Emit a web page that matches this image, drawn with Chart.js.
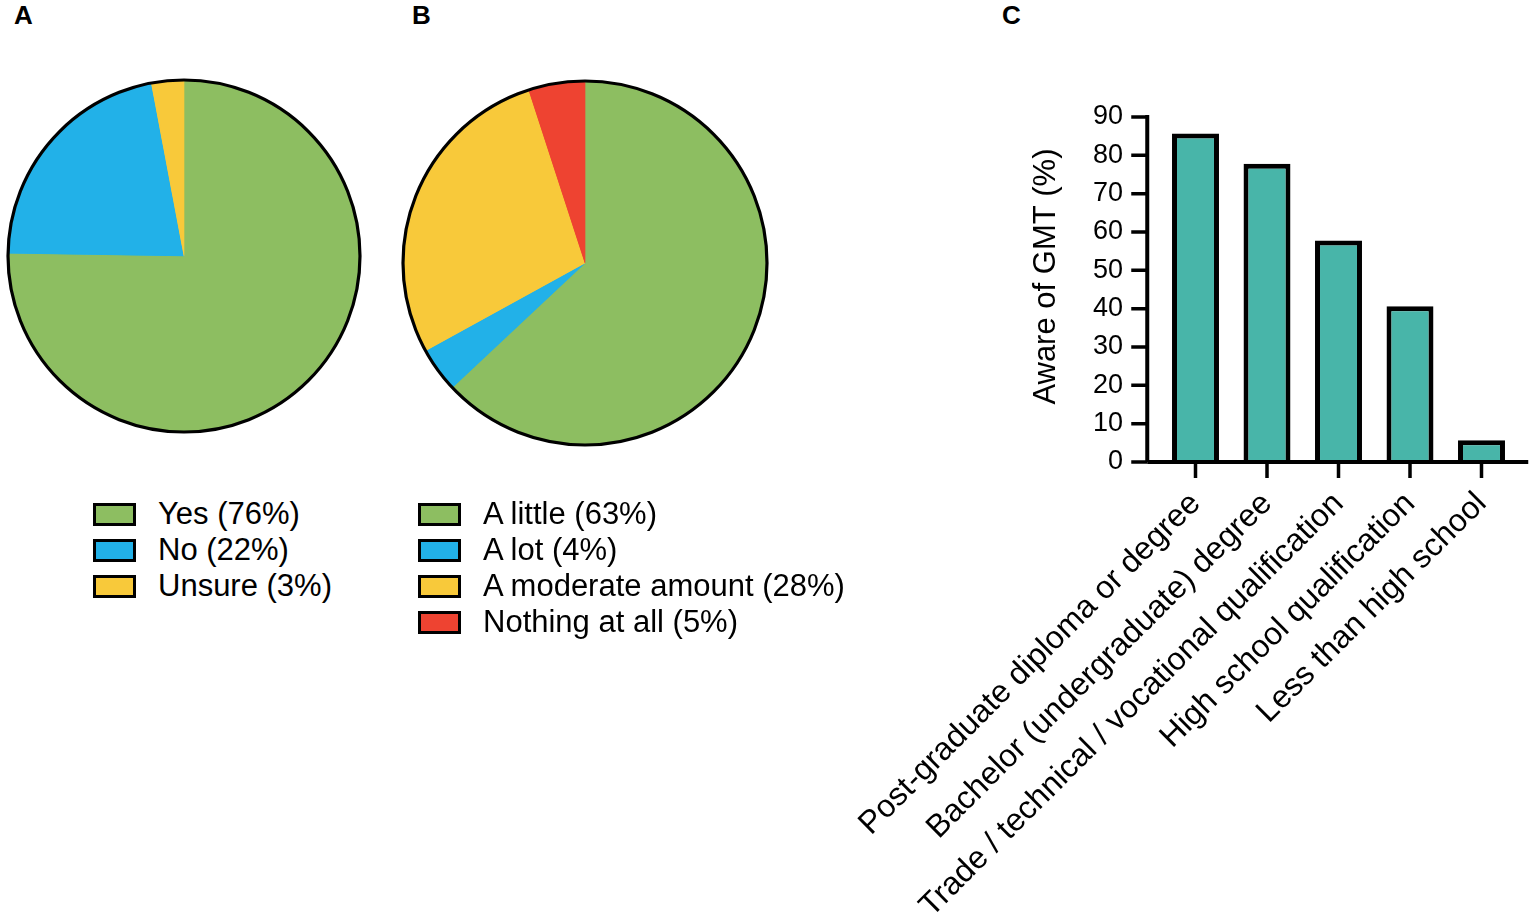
<!DOCTYPE html>
<html>
<head>
<meta charset="utf-8">
<script src="https://cdn.jsdelivr.net/npm/chart.js@4/dist/chart.umd.min.js"></script>
<style>
  html, body { margin: 0; padding: 0; background: #fff; }
  body { width: 1535px; height: 915px; position: relative; overflow: hidden;
         font-family: 'Liberation Sans', Arial, Helvetica, sans-serif; color: #000; }
  canvas { position: absolute; }
  .panel { position: absolute; font-weight: bold; font-size: 26px; line-height: 26px; }
  .legend { position: absolute; }
  .legend .row { display: flex; align-items: center; height: 36px; font-size: 31px; white-space: nowrap; }
  .legend .box { width: 43px; height: 23px; border: 3px solid #000; box-sizing: border-box; margin-right: 22px; }
</style>
</head>
<body>
<div class="panel" style="left:14px; top:2px">A</div>
<div class="panel" style="left:412px; top:2px">B</div>
<div class="panel" style="left:1002px; top:2px">C</div>

<canvas id="pieA" width="360" height="360" style="left:4px; top:76px"></canvas>
<canvas id="pieB" width="372" height="372" style="left:399px; top:77px"></canvas>
<canvas id="barC" width="695" height="915" style="left:840px; top:0px"></canvas>

<div class="legend" id="legendA" style="left:93px; top:496px"></div>
<div class="legend" id="legendB" style="left:418px; top:496px"></div>

<script>
// Panel A: aware of GMT
const awareLabels = ['Yes (76%)', 'No (22%)', 'Unsure (3%)'];
const awareValues = [76, 22, 3];
const awareColors = ['#8dbe61', '#22b1e8', '#f8c93a'];

// Panel B: how much known
const knowLabels = ['A little (63%)', 'A lot (4%)', 'A moderate amount (28%)', 'Nothing at all (5%)'];
const knowValues = [63, 4, 28, 5];
const knowColors = ['#8dbe61', '#22b1e8', '#f8c93a', '#ee4331'];

// Panel C: awareness by education
const eduLabels = [
  'Post-graduate diploma or degree',
  'Bachelor (undergraduate) degree',
  'Trade / technical / vocational qualification',
  'High school qualification',
  'Less than high school'
];
const eduValues = [85.7, 77.8, 57.8, 40.6, 5.7];
const eduColor = '#48b5a9';

const FONT = "'Liberation Sans', Arial, Helvetica, sans-serif";

// contorno negro solo alrededor del círculo
const outerRing = {
  id: 'outerRing',
  afterDatasetsDraw(chart) {
    const arc = chart.getDatasetMeta(0).data[0];
    if (!arc) return;
    const ctx = chart.ctx;
    ctx.save();
    ctx.strokeStyle = '#000';
    ctx.lineWidth = 3.2;
    ctx.beginPath();
    ctx.arc(arc.x, arc.y, arc.outerRadius, 0, Math.PI * 2);
    ctx.stroke();
    ctx.restore();
  }
};

function makePie(id, labels, values, colors) {
  new Chart(document.getElementById(id), {
    type: 'pie',
    data: {
      labels: labels,
      datasets: [{
        data: values,
        backgroundColor: colors,
        borderColor: colors,
        borderWidth: 1,
        borderAlign: 'inner'
      }]
    },
    options: {
      responsive: false,
      animation: false,
      layout: { padding: 4 },
      plugins: { legend: { display: false }, tooltip: { enabled: false } }
    },
    plugins: [outerRing]
  });
}

function makeLegend(id, labels, colors) {
  const el = document.getElementById(id);
  labels.forEach((text, i) => {
    const row = document.createElement('div');
    row.className = 'row';
    const box = document.createElement('span');
    box.className = 'box';
    box.style.background = colors[i];
    row.appendChild(box);
    row.appendChild(document.createTextNode(text));
    el.appendChild(row);
  });
}

makePie('pieA', awareLabels, awareValues, awareColors);
makePie('pieB', knowLabels, knowValues, knowColors);
makeLegend('legendA', awareLabels, awareColors);
makeLegend('legendB', knowLabels, knowColors);

// ejes al estilo GraphPad: separados del área de barras
const axisLines = {
  id: 'axisLines',
  afterDraw(chart) {
    const { ctx, chartArea, scales: { x, y } } = chart;
    const axisX = chartArea.left - 12.5;
    const baseY = y.getPixelForValue(0);
    ctx.save();
    ctx.strokeStyle = '#000';
    ctx.lineWidth = 4;
    ctx.beginPath();
    ctx.moveTo(axisX, y.getPixelForValue(y.max) - 2);
    ctx.lineTo(axisX, baseY);
    ctx.moveTo(axisX, baseY);
    ctx.lineTo(chartArea.right + 11, baseY);
    ctx.stroke();
    ctx.lineWidth = 3.5;
    ctx.beginPath();
    y.ticks.forEach(t => {
      const py = y.getPixelForValue(t.value);
      ctx.moveTo(axisX - 16, py);
      ctx.lineTo(axisX, py);
    });
    x.ticks.forEach((t, i) => {
      const px = x.getPixelForTick(i);
      ctx.moveTo(px, baseY);
      ctx.lineTo(px, baseY + 16);
    });
    ctx.stroke();
    ctx.restore();
  }
};

new Chart(document.getElementById('barC'), {
  type: 'bar',
  data: {
    labels: eduLabels,
    datasets: [{
      data: eduValues,
      backgroundColor: eduColor,
      borderColor: '#000',
      borderWidth: 5,
      borderSkipped: 'start',
      barPercentage: 0.657,
      categoryPercentage: 1
    }]
  },
  options: {
    responsive: false,
    animation: false,
    layout: { padding: { left: 170, right: 17.75, top: 117, bottom: 0 } },
    plugins: { legend: { display: false }, tooltip: { enabled: false } },
    scales: {
      x: {
        grid: { display: false, drawTicks: false },
        border: { display: false },
        ticks: {
          color: '#000',
          font: { family: FONT, size: 32 },
          maxRotation: 45,
          minRotation: 45,
          autoSkip: false,
          padding: 23
        },
        afterFit(scale) {
          scale.height = 915 - 462;
          scale.paddingLeft = 0;
          scale.paddingRight = 0;
        }
      },
      y: {
        min: 0,
        max: 90,
        grid: { display: false, drawTicks: false },
        border: { display: false },
        ticks: {
          stepSize: 10,
          color: '#000',
          font: { family: FONT, size: 27 },
          padding: 36.75
        },
        title: {
          display: true,
          text: '\u00a0\u00a0\u00a0Aware of GMT (%)',
          color: '#000',
          font: { family: FONT, size: 31 },
          padding: { top: 17.4, bottom: 0 }
        },
        afterFit(scale) {
          scale.width = 149.75;
        }
      }
    }
  },
  plugins: [axisLines]
});
</script>
</body>
</html>
